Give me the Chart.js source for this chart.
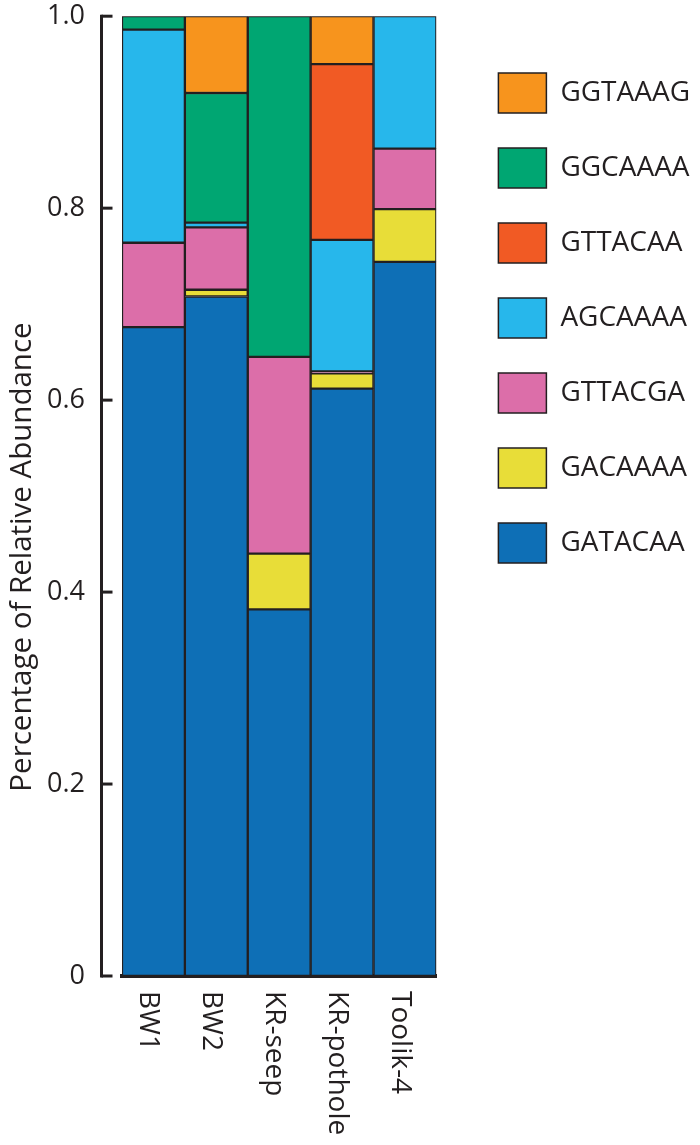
<!DOCTYPE html>
<html><head><meta charset="utf-8">
<script src="https://cdn.jsdelivr.net/npm/chart.js@4.4.1/dist/chart.umd.min.js"></script>
<style>html,body{margin:0;padding:0;background:#fff;}#wrap{width:700px;height:1145px;position:relative;}</style>
</head><body><div id="wrap"><canvas id="c" width="700" height="1145"></canvas></div>
<script>
const categories = ['BW1', 'BW2', 'KR-seep', 'KR-pothole', 'Toolik-4'];
const seriesNames = ['GATACAA', 'GACAAAA', 'GTTACGA', 'AGCAAAA', 'GTTACAA', 'GGCAAAA', 'GGTAAAG'];
const GATACAA = [0.676, 0.708, 0.382, 0.612, 0.744];
const GACAAAA = [0, 0.007, 0.058, 0.016, 0.055];
const GTTACGA = [0.088, 0.065, 0.205, 0.002, 0.063];
const AGCAAAA = [0.222, 0.005, 0, 0.137, 0.138];
const GTTACAA = [0, 0, 0, 0.183, 0];
const GGCAAAA = [0.014, 0.135, 0.355, 0, 0];
const GGTAAAG = [0, 0.080, 0, 0.050, 0];
const seriesValues = [GATACAA, GACAAAA, GTTACGA, AGCAAAA, GTTACAA, GGCAAAA, GGTAAAG];
const seriesColors = ['#0e6fb6', '#e8dd38', '#dc6ea9', '#27b7eb', '#f15a24', '#00a672', '#f7941d'];
const yTickLabels = ['0', '0.2', '0.4', '0.6', '0.8', '1.0'];
const yTitle = 'Percentage of Relative Abundance';
const INK = '#231f20';

const datasets = seriesNames.map((name, i) => ({
  label: name,
  data: seriesValues[i],
  backgroundColor: seriesColors[i],
  borderColor: INK,
  borderWidth: 1.5,
  borderSkipped: false,
  categoryPercentage: 1,
  barPercentage: 1,
  yAxisID: 'y'
}));

const decor = {
  id: 'decor',
  afterDraw(chart) {
    const ctx = chart.ctx, ys = chart.scales.y, xs = chart.scales.x, ca = chart.chartArea;
    ctx.save();
    ctx.strokeStyle = INK; ctx.lineWidth = 3;
    const ax = ca.left - 20.5;
    const top = ys.getPixelForValue(1), bot = ys.getPixelForValue(0);
    ctx.beginPath(); ctx.moveTo(ax, top - 1.5); ctx.lineTo(ax, bot + 1.5); ctx.stroke();
    ys.ticks.forEach(t => {
      const py = ys.getPixelForValue(t.value);
      ctx.beginPath(); ctx.moveTo(ax, py); ctx.lineTo(ax + 11, py); ctx.stroke();
    });
    ctx.fillStyle = INK;
    ctx.font = '28px "Open Sans"';
    ctx.textAlign = 'left'; ctx.textBaseline = 'alphabetic';
    chart.data.labels.forEach((lab, i) => {
      const px = xs.getPixelForValue(i);
      ctx.save(); ctx.translate(px - 13, ca.bottom + 15); ctx.rotate(Math.PI / 2);
      ctx.fillText(lab, 0, 0); ctx.restore();
    });
    ctx.font = '29.5px "Open Sans"'; ctx.textAlign = 'center';
    ctx.save(); ctx.translate(31, 557); ctx.rotate(-Math.PI / 2);
    ctx.fillText(yTitle, 0, 0); ctx.restore();
    ctx.restore();
  }
};

new Chart(document.getElementById('c'), {
  type: 'bar',
  data: { labels: categories, datasets },
  plugins: [decor],
  options: {
    responsive: false,
    animation: false,
    layout: { padding: { top: 0, left: 0, right: 0, bottom: 169 } },
    scales: {
      x: {
        stacked: true,
        grid: { display: false, drawTicks: false },
        ticks: { display: false },
        border: { display: true, width: 4, color: INK }
      },
      y: {
        stacked: true, min: 0, max: 1, position: 'left',
        afterFit: s => { s.width = 122; },
        ticks: { stepSize: 0.2, padding: 0, color: INK, font: { family: 'Open Sans', size: 27 },
          callback: (v, i) => yTickLabels[i] },
        grid: { display: false, drawTicks: true, tickLength: 37 },
        border: { display: false }
      },
      yR: {
        type: 'linear', position: 'right', display: true,
        afterFit: s => { s.width = 27; },
        ticks: { display: false },
        grid: { display: false, drawTicks: false },
        border: { display: false }
      }
    },
    plugins: {
      tooltip: { enabled: false },
      legend: {
        position: 'right', align: 'start', reverse: true, maxWidth: 320,
        title: { display: true, text: ' ', font: { size: 10 }, padding: { top: 26, bottom: 0 } },
        labels: { boxWidth: 48, boxHeight: 40, padding: 35, color: INK,
          font: { family: 'Open Sans', size: 28 } }
      }
    }
  }
});
</script></body></html>
